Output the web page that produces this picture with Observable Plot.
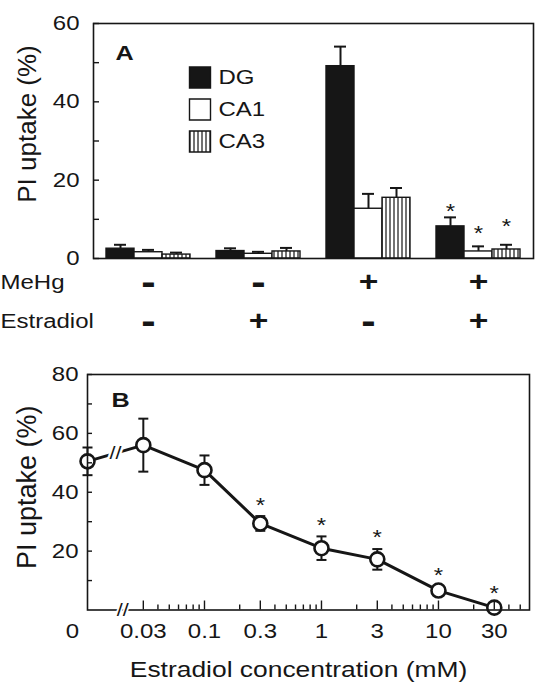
<!DOCTYPE html>
<html><head><meta charset="utf-8">
<script src="https://cdn.jsdelivr.net/npm/d3@7"></script>
<script src="https://cdn.jsdelivr.net/npm/@observablehq/plot@0.6"></script>
<style>
body{margin:0;background:#fff;}
#chart{width:555px;height:685px;overflow:hidden;}
#chart svg{display:block;}
</style></head><body><div id="chart"></div>
<script>
// ---------- Panel A data ----------
const groups = ["g1", "g2", "g3", "g4"];
const mehgRow = ["-", "-", "+", "+"];
const estradiolRow = ["-", "+", "-", "+"];
const seriesNames = ["DG", "CA1", "CA3"];
const dgMean = [2.5, 1.9, 49.1, 8.2];
const dgErr = [1.0, 0.7, 5.0, 2.3];
const ca1Mean = [1.6, 1.2, 12.7, 1.8];
const ca1Err = [0.6, 0.5, 3.8, 1.3];
const ca3Mean = [1.0, 1.8, 15.5, 2.3];
const ca3Err = [0.5, 0.9, 2.5, 1.2];
const dgSig = [false, false, false, true];
const ca1Sig = [false, false, false, true];
const ca3Sig = [false, false, false, true];
const yTicksA = [0, 20, 40, 60];
const yMinorA = [10, 30, 50];

// ---------- Panel B data ----------
const concentrations = [0, 0.03, 0.1, 0.3, 1, 3, 10, 30];
const uptakeMean = [50.5, 56, 47.5, 29.4, 21, 17.2, 6.6, 0.8];
const uptakeErr = [4.7, 9, 5, 2.5, 4, 3.5, 1.5, 1.0];
const significant = [false, false, false, true, true, true, true, true];
const xMajorTicks = [0.03, 0.1, 0.3, 1, 3, 10, 30];
const xMajorLabels = ["0.03", "0.1", "0.3", "1", "3", "10", "30"];
const xMinorTicks = [0.04, 0.05, 0.06, 0.07, 0.08, 0.09, 0.2, 0.4, 0.5, 0.6, 0.7, 0.8, 0.9, 2, 4, 5, 6, 7, 8, 9, 20, 40, 50];
const yTicksB = [20, 40, 60, 80];
const yMinorB = [10, 30, 50, 70];
const zeroPosition = 0.01;     // where the "0" dose sits on the broken log axis
const axisBreakPosition = 0.02;

const INK = "#161616";
const FONT = "'Liberation Sans', Arial, sans-serif";
const STRETCH = 1.2;

function stretchText(svg) {
  svg.querySelectorAll("text").forEach(t => {
    const tr = (t.getAttribute("transform") || "") + (t.parentNode.getAttribute("transform") || "");
    if (tr.includes("rotate")) return;
    const L = t.getComputedTextLength();
    if (L > 0) {
      t.setAttribute("textLength", (L * STRETCH).toFixed(2));
      t.setAttribute("lengthAdjust", "spacingAndGlyphs");
    }
  });
}
function addStripes(svg) {
  const p = d3.select(svg).insert("defs", ":first-child")
    .append("pattern").attr("id", "stripes").attr("patternUnits", "userSpaceOnUse")
    .attr("width", 4).attr("height", 4);
  p.append("rect").attr("width", 4).attr("height", 4).attr("fill", "white");
  p.append("rect").attr("x", 1.4).attr("width", 1.2).attr("height", 4).attr("fill", INK);
}

const W = 555;
const container = document.getElementById("chart");

// ---------- Panel A ----------
const mA = {top: 23, right: 22, bottom: 87, left: 93};
const HA = 345;
const bandA = (W - mA.left - mA.right) / groups.length;
const barWidth = 28, capWidth = 12;
const barInset = (bandA - barWidth) / 2;
const capInset = (bandA - capWidth) / 2;

const series = [
  {name: seriesNames[0], means: dgMean, errs: dgErr, sig: dgSig, fill: INK, starDy: -6},
  {name: seriesNames[1], means: ca1Mean, errs: ca1Err, sig: ca1Sig, fill: "white", starDy: -13},
  {name: seriesNames[2], means: ca3Mean, errs: ca3Err, sig: ca3Sig, fill: "url(#stripes)", starDy: -18}
];

const marksA = [];
series.forEach((s, j) => {
  const data = groups.map((g, i) => ({group: g, value: s.means[i], err: s.errs[i], sig: s.sig[i]}));
  const off = (j - 1) * barWidth;
  marksA.push(Plot.ruleX(data, {x: "group", y1: "value", y2: d => d.value + d.err, stroke: INK, strokeWidth: 2, dx: off}));
  marksA.push(Plot.tickY(data, {x: "group", y: d => d.value + d.err, stroke: INK, strokeWidth: 2, insetLeft: capInset, insetRight: capInset, dx: off}));
  marksA.push(Plot.barY(data, {x: "group", y: "value", fill: s.fill, stroke: INK, strokeWidth: 1.4, insetLeft: barInset, insetRight: barInset, dx: off}));
  marksA.push(Plot.text(data.filter(d => d.sig), {x: "group", y: d => d.value + d.err, text: () => "*", dx: off, dy: s.starDy, fontSize: 20}));
  // legend
  marksA.push(Plot.dot([s.name], {frameAnchor: "top-left", dx: 106.5, dy: 54 + 32 * j, symbol: "square", r: 11.85, fill: s.fill, stroke: INK, strokeWidth: 1.4}));
  marksA.push(Plot.text([s.name], {frameAnchor: "top-left", lineAnchor: "middle", text: d => d, textAnchor: "start", dx: 125, dy: 54 + 32 * j, fontSize: 20}));
});

const rowData = groups.map((g, i) => ({group: g, mehg: mehgRow[i], estradiol: estradiolRow[i]}));
const svgA = Plot.plot({
  width: W, height: HA,
  marginTop: mA.top, marginRight: mA.right, marginBottom: mA.bottom, marginLeft: mA.left,
  x: {type: "band", domain: groups, padding: 0, axis: null},
  y: {domain: [0, 60]},
  style: {fontFamily: FONT, fontSize: "20px", color: INK, background: "white", overflow: "visible"},
  marks: [
    ...marksA,
    Plot.frame({stroke: INK, strokeWidth: 1.6}),
    Plot.axisY([...yTicksA, ...yMinorA], {tickSize: -6, tickFormat: () => "", label: null, strokeWidth: 1.4}),
    Plot.axisY(yTicksA, {tickSize: 0, tickPadding: 14, fontSize: 20, label: null}),
    Plot.text(["PI uptake (%)"], {text: d => d, frameAnchor: "left", textAnchor: "middle", lineAnchor: "middle", rotate: -90, dx: -66, dy: -17, fontSize: 26}),
    Plot.text(["A"], {text: d => d, frameAnchor: "top-left", textAnchor: "start", lineAnchor: "top", dx: 22, dy: 22, fontSize: 21, fontWeight: "bold"}),
    // treatment rows
    Plot.text(["MeHg"], {text: d => d, frameAnchor: "bottom-left", lineAnchor: "middle", textAnchor: "start", dx: -mA.left, dy: 24, fontSize: 20}),
    Plot.text(["Estradiol"], {text: d => d, frameAnchor: "bottom-left", lineAnchor: "middle", textAnchor: "start", dx: -mA.left, dy: 63, fontSize: 20}),
    Plot.text(rowData.filter(d => d.mehg === "+"), {x: "group", text: "mehg", frameAnchor: "bottom", lineAnchor: "middle", dy: 24, fontSize: 28, fontWeight: "bold"}),
    Plot.text(rowData.filter(d => d.mehg === "-"), {x: "group", text: "mehg", frameAnchor: "bottom", lineAnchor: "middle", dy: 24, fontSize: 36, fontWeight: "bold"}),
    Plot.text(rowData.filter(d => d.estradiol === "+"), {x: "group", text: "estradiol", frameAnchor: "bottom", lineAnchor: "middle", dy: 63, fontSize: 28, fontWeight: "bold"}),
    Plot.text(rowData.filter(d => d.estradiol === "-"), {x: "group", text: "estradiol", frameAnchor: "bottom", lineAnchor: "middle", dy: 63, fontSize: 36, fontWeight: "bold"})
  ]
});
container.append(svgA);
addStripes(svgA);
stretchText(svgA);

// ---------- Panel B ----------
const mB = {top: 29, right: 26, bottom: 75.5, left: 87};
const HB = 340;
const rowsB = concentrations.map((c, i) => ({
  conc: c, pos: c === 0 ? zeroPosition : c,
  mean: uptakeMean[i], err: uptakeErr[i], sig: significant[i]
}));
const lineBreak = [{pos: Math.sqrt(rowsB[0].pos * rowsB[1].pos), y: (rowsB[0].mean + rowsB[1].mean) / 2}];
const capSymbol = {draw(ctx, size) { const h = Math.sqrt(size / Math.PI); ctx.moveTo(-h, 0); ctx.lineTo(h, 0); }};
const xLabels = xMajorTicks.map((t, i) => ({pos: t, label: xMajorLabels[i]}));

const svgB = Plot.plot({
  width: W, height: HB,
  marginTop: mB.top, marginRight: mB.right, marginBottom: mB.bottom, marginLeft: mB.left,
  x: {type: "log", domain: [zeroPosition, 60]},
  y: {domain: [0, 80]},
  style: {fontFamily: FONT, fontSize: "20px", color: INK, background: "white", overflow: "visible"},
  marks: [
    Plot.ruleX(rowsB, {x: "pos", y1: d => d.mean - d.err, y2: d => d.mean + d.err, stroke: INK, strokeWidth: 2}),
    Plot.dot(rowsB, {x: "pos", y: d => d.mean + d.err, symbol: capSymbol, r: 5, stroke: INK, strokeWidth: 2, fill: "none"}),
    Plot.dot(rowsB, {x: "pos", y: d => d.mean - d.err, symbol: capSymbol, r: 5, stroke: INK, strokeWidth: 2, fill: "none"}),
    Plot.line(rowsB, {x: "pos", y: "mean", stroke: INK, strokeWidth: 3}),
    Plot.text(lineBreak, {x: "pos", y: "y", text: () => "//", fontSize: 18, fill: INK, stroke: "white", strokeWidth: 4, paintOrder: "stroke"}),
    Plot.dot(rowsB, {x: "pos", y: "mean", r: 7, fill: "white", stroke: INK, strokeWidth: 2.6}),
    Plot.text(rowsB.filter(d => d.sig), {x: "pos", y: d => d.mean + d.err, text: () => "*", dy: -11, fontSize: 20}),
    Plot.frame({stroke: INK, strokeWidth: 1.6}),
    Plot.axisY([...yTicksB, ...yMinorB], {tickSize: -5, tickFormat: () => "", label: null, strokeWidth: 1.4}),
    Plot.axisY(yTicksB, {tickSize: 0, tickPadding: 9, fontSize: 20, label: null}),
    Plot.axisX(xMajorTicks, {tickSize: -9, tickFormat: () => "", label: null, strokeWidth: 1.4}),
    Plot.axisX(xMinorTicks, {tickSize: -5, tickFormat: () => "", label: null, strokeWidth: 1.4}),
    Plot.text([axisBreakPosition], {x: d => d, frameAnchor: "bottom", lineAnchor: "middle", text: () => "//", fontSize: 18, fill: INK, stroke: "white", strokeWidth: 3, paintOrder: "stroke"}),
    Plot.text(xLabels, {x: "pos", text: "label", frameAnchor: "bottom", lineAnchor: "middle", dy: 21.5, fontSize: 20}),
    Plot.text([zeroPosition], {x: d => d, text: () => "0", frameAnchor: "bottom", lineAnchor: "middle", dx: -15, dy: 21.5, fontSize: 20}),
    Plot.text(["Estradiol concentration (mM)"], {text: d => d, frameAnchor: "bottom", lineAnchor: "middle", dx: -10, dy: 59.5, fontSize: 22}),
    Plot.text(["PI uptake (%)"], {text: d => d, frameAnchor: "left", textAnchor: "middle", lineAnchor: "middle", rotate: -90, dx: -60, dy: -5, fontSize: 27}),
    Plot.text(["B"], {text: d => d, frameAnchor: "top-left", textAnchor: "start", lineAnchor: "top", dx: 24, dy: 18, fontSize: 21, fontWeight: "bold"})
  ]
});
container.append(svgB);
stretchText(svgB);
</script></body></html>
